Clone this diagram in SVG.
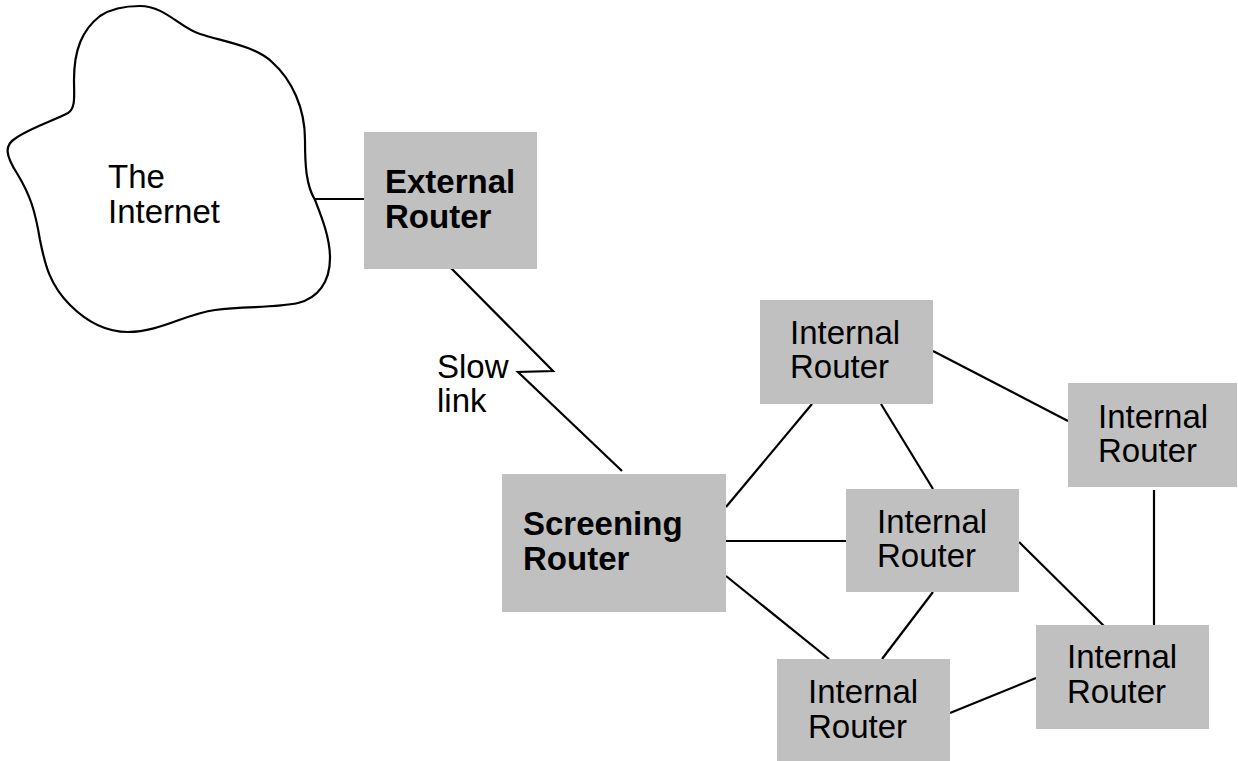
<svg xmlns="http://www.w3.org/2000/svg" width="1238" height="761" viewBox="0 0 1238 761">
<style>
.box{fill:#c0c0c0;stroke:none}
.t{font-family:"Liberation Sans",Arial,sans-serif;font-size:33px;fill:#000}
.b{font-weight:bold}
.ln{stroke:#000;stroke-width:2.2;fill:none}
</style>
<rect width="1238" height="761" fill="#fff"/>
<g id="internet">
<path class="ln" d="M140,6 C165,6 180,28 200,34 C225,42 255,46 272,62 C292,80 305,108 305,140 C305,165 306,185 315,200 C322,218 330,238 330,258 C330,282 318,298 298,303 C275,308 245,306 215,310 C185,314 160,332 128,332 C103,332 85,320 70,305 C50,285 45,265 40,240 C35,210 30,195 18,175 C5,155 4,145 16,138 C30,128 55,120 68,113 C76,108 74,95 74,80 C74,50 82,30 100,16 C112,8 125,6 140,6 Z"/>
<text class="t" x="108" y="188">The</text>
<text class="t" x="108" y="223">Internet</text>
</g>
<g id="connectors">
<line class="ln" x1="315" y1="199" x2="364" y2="199"/>
<path class="ln" d="M451,268 L553,371 L518,372 L622,471"/>
<line class="ln" x1="812" y1="404" x2="726" y2="507"/>
<line class="ln" x1="881" y1="404" x2="933" y2="489"/>
<line class="ln" x1="933" y1="351" x2="1068" y2="421"/>
<line class="ln" x1="726" y1="541" x2="846" y2="541"/>
<line class="ln" x1="726" y1="576" x2="829" y2="659"/>
<line class="ln" x1="933" y1="592" x2="882" y2="659"/>
<line class="ln" x1="1019" y1="542" x2="1105" y2="627"/>
<line class="ln" x1="1154" y1="490" x2="1154" y2="625"/>
<line class="ln" x1="950" y1="713" x2="1036" y2="678"/>
</g>
<g id="slow-link-label">
<text class="t" x="437" y="378">Slow</text>
<text class="t" x="437" y="412">link</text>
</g>
<g id="external-router">
<rect class="box" x="364" y="132" width="173" height="137"/>
<text class="t b" x="385" y="193">External</text>
<text class="t b" x="385" y="228">Router</text>
</g>
<g id="screening-router">
<rect class="box" x="502" y="474" width="224" height="138"/>
<text class="t b" x="523" y="535">Screening</text>
<text class="t b" x="523" y="570">Router</text>
</g>
<g id="internal-router-1">
<rect class="box" x="760" y="300" width="173" height="104"/>
<text class="t" x="790" y="344">Internal</text>
<text class="t" x="790" y="378">Router</text>
</g>
<g id="internal-router-2">
<rect class="box" x="1068" y="383" width="169" height="104"/>
<text class="t" x="1098" y="428">Internal</text>
<text class="t" x="1098" y="462">Router</text>
</g>
<g id="internal-router-3">
<rect class="box" x="846" y="489" width="173" height="103"/>
<text class="t" x="877" y="533">Internal</text>
<text class="t" x="877" y="567">Router</text>
</g>
<g id="internal-router-4">
<rect class="box" x="777" y="659" width="173" height="102"/>
<text class="t" x="808" y="703">Internal</text>
<text class="t" x="808" y="738">Router</text>
</g>
<g id="internal-router-5">
<rect class="box" x="1036" y="625" width="173" height="104"/>
<text class="t" x="1067" y="668">Internal</text>
<text class="t" x="1067" y="703">Router</text>
</g>
</svg>
